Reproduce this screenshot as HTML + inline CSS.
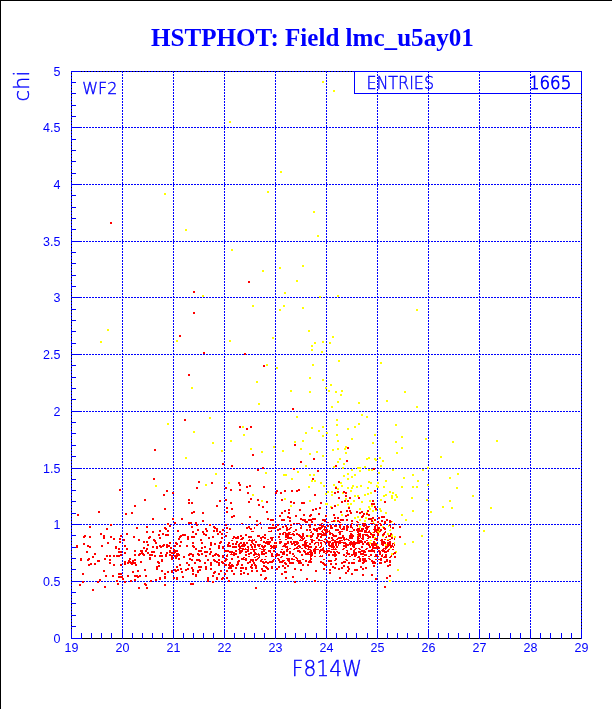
<!DOCTYPE html>
<html><head><meta charset="utf-8"><title>HSTPHOT: Field lmc_u5ay01</title>
<style>html,body{margin:0;padding:0;background:#fff;}body{width:612px;height:709px;overflow:hidden;position:relative;}
.frame{position:absolute;left:0;top:0;width:612px;height:709px;box-sizing:border-box;border-top:1px solid #000;border-left:1px solid #000;}
svg{position:absolute;left:0;top:0;}</style></head>
<body><div class="frame"></div><svg width="612" height="709" viewBox="0 0 612 709" shape-rendering="crispEdges"><path d="M122.5 71V638M173.5 71V638M224.5 71V638M275.5 71V638M326.5 71V638M377.5 71V638M428.5 71V638M479.5 71V638M530.5 71V638M71 581.5H581M71 524.5H581M71 468.5H581M71 411.5H581M71 354.5H581M71 297.5H581M71 241.5H581M71 184.5H581M71 127.5H581" stroke="#0000ff" stroke-width="1" stroke-dasharray="2 1" fill="none"/><path d="M71.5 639V71.5H581.5V639" stroke="#0000ff" stroke-width="1" fill="none"/><path d="M71 73h1v1h-1zM71 76h1v1h-1zM71 79h1v1h-1zM71 82h1v1h-1zM71 85h1v1h-1zM71 88h1v1h-1zM71 91h1v1h-1zM71 94h1v1h-1zM71 97h1v1h-1zM71 100h1v1h-1zM71 103h1v1h-1zM71 106h1v1h-1zM71 109h1v1h-1zM71 112h1v1h-1zM71 115h1v1h-1zM71 118h1v1h-1zM71 121h1v1h-1zM71 124h1v1h-1zM71 127h1v1h-1zM71 130h1v1h-1zM71 133h1v1h-1zM71 136h1v1h-1zM71 139h1v1h-1zM71 142h1v1h-1zM71 145h1v1h-1zM71 148h1v1h-1zM71 151h1v1h-1zM71 154h1v1h-1zM71 157h1v1h-1zM71 160h1v1h-1zM71 163h1v1h-1zM71 166h1v1h-1zM71 169h1v1h-1zM71 172h1v1h-1zM71 175h1v1h-1zM71 178h1v1h-1zM71 181h1v1h-1zM71 184h1v1h-1zM71 187h1v1h-1zM71 190h1v1h-1zM71 193h1v1h-1zM71 196h1v1h-1zM71 199h1v1h-1zM71 202h1v1h-1zM71 205h1v1h-1zM71 208h1v1h-1zM71 211h1v1h-1zM71 214h1v1h-1zM71 217h1v1h-1zM71 220h1v1h-1zM71 223h1v1h-1zM71 226h1v1h-1zM71 229h1v1h-1zM71 232h1v1h-1zM71 235h1v1h-1zM71 238h1v1h-1zM71 241h1v1h-1zM71 244h1v1h-1zM71 247h1v1h-1zM71 250h1v1h-1zM71 253h1v1h-1zM71 256h1v1h-1zM71 259h1v1h-1zM71 262h1v1h-1zM71 265h1v1h-1zM71 268h1v1h-1zM71 271h1v1h-1zM71 274h1v1h-1zM71 277h1v1h-1zM71 280h1v1h-1zM71 283h1v1h-1zM71 286h1v1h-1zM71 289h1v1h-1zM71 292h1v1h-1zM71 295h1v1h-1zM71 298h1v1h-1zM71 301h1v1h-1zM71 304h1v1h-1zM71 307h1v1h-1zM71 310h1v1h-1zM71 313h1v1h-1zM71 316h1v1h-1zM71 319h1v1h-1zM71 322h1v1h-1zM71 325h1v1h-1zM71 328h1v1h-1zM71 331h1v1h-1zM71 334h1v1h-1zM71 337h1v1h-1zM71 340h1v1h-1zM71 343h1v1h-1zM71 346h1v1h-1zM71 349h1v1h-1zM71 352h1v1h-1zM71 355h1v1h-1zM71 358h1v1h-1zM71 361h1v1h-1zM71 364h1v1h-1zM71 367h1v1h-1zM71 370h1v1h-1zM71 373h1v1h-1zM71 376h1v1h-1zM71 379h1v1h-1zM71 382h1v1h-1zM71 385h1v1h-1zM71 388h1v1h-1zM71 391h1v1h-1zM71 394h1v1h-1zM71 397h1v1h-1zM71 400h1v1h-1zM71 403h1v1h-1zM71 406h1v1h-1zM71 409h1v1h-1zM71 412h1v1h-1zM71 415h1v1h-1zM71 418h1v1h-1zM71 421h1v1h-1zM71 424h1v1h-1zM71 427h1v1h-1zM71 430h1v1h-1zM71 433h1v1h-1zM71 436h1v1h-1zM71 439h1v1h-1zM71 442h1v1h-1zM71 445h1v1h-1zM71 448h1v1h-1zM71 451h1v1h-1zM71 454h1v1h-1zM71 457h1v1h-1zM71 460h1v1h-1zM71 463h1v1h-1zM71 466h1v1h-1zM71 469h1v1h-1zM71 472h1v1h-1zM71 475h1v1h-1zM71 478h1v1h-1zM71 481h1v1h-1zM71 484h1v1h-1zM71 487h1v1h-1zM71 490h1v1h-1zM71 493h1v1h-1zM71 496h1v1h-1zM71 499h1v1h-1zM71 502h1v1h-1zM71 505h1v1h-1zM71 508h1v1h-1zM71 511h1v1h-1zM71 514h1v1h-1zM71 517h1v1h-1zM71 520h1v1h-1zM71 523h1v1h-1zM71 526h1v1h-1zM71 529h1v1h-1zM71 532h1v1h-1zM71 535h1v1h-1zM71 538h1v1h-1zM71 541h1v1h-1zM71 544h1v1h-1zM71 547h1v1h-1zM71 550h1v1h-1zM71 553h1v1h-1zM71 556h1v1h-1zM71 559h1v1h-1zM71 562h1v1h-1zM71 565h1v1h-1zM71 568h1v1h-1zM71 571h1v1h-1zM71 574h1v1h-1zM71 577h1v1h-1zM71 580h1v1h-1zM71 583h1v1h-1zM71 586h1v1h-1zM71 589h1v1h-1zM71 592h1v1h-1zM71 595h1v1h-1zM71 598h1v1h-1zM71 601h1v1h-1zM71 604h1v1h-1zM71 607h1v1h-1zM71 610h1v1h-1zM71 613h1v1h-1zM71 616h1v1h-1zM71 619h1v1h-1zM71 622h1v1h-1zM71 625h1v1h-1zM71 628h1v1h-1zM581 94h1v1h-1zM581 97h1v1h-1zM581 100h1v1h-1zM581 103h1v1h-1zM581 106h1v1h-1zM581 109h1v1h-1zM581 112h1v1h-1zM581 115h1v1h-1zM581 118h1v1h-1zM581 121h1v1h-1zM581 124h1v1h-1zM581 127h1v1h-1zM581 130h1v1h-1zM581 133h1v1h-1zM581 136h1v1h-1zM581 139h1v1h-1zM581 142h1v1h-1zM581 145h1v1h-1zM581 148h1v1h-1zM581 151h1v1h-1zM581 154h1v1h-1zM581 157h1v1h-1zM581 160h1v1h-1zM581 163h1v1h-1zM581 166h1v1h-1zM581 169h1v1h-1zM581 172h1v1h-1zM581 175h1v1h-1zM581 178h1v1h-1zM581 181h1v1h-1zM581 184h1v1h-1zM581 187h1v1h-1zM581 190h1v1h-1zM581 193h1v1h-1zM581 196h1v1h-1zM581 199h1v1h-1zM581 202h1v1h-1zM581 205h1v1h-1zM581 208h1v1h-1zM581 211h1v1h-1zM581 214h1v1h-1zM581 217h1v1h-1zM581 220h1v1h-1zM581 223h1v1h-1zM581 226h1v1h-1zM581 229h1v1h-1zM581 232h1v1h-1zM581 235h1v1h-1zM581 238h1v1h-1zM581 241h1v1h-1zM581 244h1v1h-1zM581 247h1v1h-1zM581 250h1v1h-1zM581 253h1v1h-1zM581 256h1v1h-1zM581 259h1v1h-1zM581 262h1v1h-1zM581 265h1v1h-1zM581 268h1v1h-1zM581 271h1v1h-1zM581 274h1v1h-1zM581 277h1v1h-1zM581 280h1v1h-1zM581 283h1v1h-1zM581 286h1v1h-1zM581 289h1v1h-1zM581 292h1v1h-1zM581 295h1v1h-1zM581 298h1v1h-1zM581 301h1v1h-1zM581 304h1v1h-1zM581 307h1v1h-1zM581 310h1v1h-1zM581 313h1v1h-1zM581 316h1v1h-1zM581 319h1v1h-1zM581 322h1v1h-1zM581 325h1v1h-1zM581 328h1v1h-1zM581 331h1v1h-1zM581 334h1v1h-1zM581 337h1v1h-1zM581 340h1v1h-1zM581 343h1v1h-1zM581 346h1v1h-1zM581 349h1v1h-1zM581 352h1v1h-1zM581 355h1v1h-1zM581 358h1v1h-1zM581 361h1v1h-1zM581 364h1v1h-1zM581 367h1v1h-1zM581 370h1v1h-1zM581 373h1v1h-1zM581 376h1v1h-1zM581 379h1v1h-1zM581 382h1v1h-1zM581 385h1v1h-1zM581 388h1v1h-1zM581 391h1v1h-1zM581 394h1v1h-1zM581 397h1v1h-1zM581 400h1v1h-1zM581 403h1v1h-1zM581 406h1v1h-1zM581 409h1v1h-1zM581 412h1v1h-1zM581 415h1v1h-1zM581 418h1v1h-1zM581 421h1v1h-1zM581 424h1v1h-1zM581 427h1v1h-1zM581 430h1v1h-1zM581 433h1v1h-1zM581 436h1v1h-1zM581 439h1v1h-1zM581 442h1v1h-1zM581 445h1v1h-1zM581 448h1v1h-1zM581 451h1v1h-1zM581 454h1v1h-1zM581 457h1v1h-1zM581 460h1v1h-1zM581 463h1v1h-1zM581 466h1v1h-1zM581 469h1v1h-1zM581 472h1v1h-1zM581 475h1v1h-1zM581 478h1v1h-1zM581 481h1v1h-1zM581 484h1v1h-1zM581 487h1v1h-1zM581 490h1v1h-1zM581 493h1v1h-1zM581 496h1v1h-1zM581 499h1v1h-1zM581 502h1v1h-1zM581 505h1v1h-1zM581 508h1v1h-1zM581 511h1v1h-1zM581 514h1v1h-1zM581 517h1v1h-1zM581 520h1v1h-1zM581 523h1v1h-1zM581 526h1v1h-1zM581 529h1v1h-1zM581 532h1v1h-1zM581 535h1v1h-1zM581 538h1v1h-1zM581 541h1v1h-1zM581 544h1v1h-1zM581 547h1v1h-1zM581 550h1v1h-1zM581 553h1v1h-1zM581 556h1v1h-1zM581 559h1v1h-1zM581 562h1v1h-1zM581 565h1v1h-1zM581 568h1v1h-1zM581 571h1v1h-1zM581 574h1v1h-1zM581 577h1v1h-1zM581 580h1v1h-1zM581 583h1v1h-1zM581 586h1v1h-1zM581 589h1v1h-1zM581 592h1v1h-1zM581 595h1v1h-1zM581 598h1v1h-1zM581 601h1v1h-1zM581 604h1v1h-1zM581 607h1v1h-1zM581 610h1v1h-1zM581 613h1v1h-1zM581 616h1v1h-1zM581 619h1v1h-1zM581 622h1v1h-1zM581 625h1v1h-1zM581 628h1v1h-1zM81 71h1v1h-1zM84 71h1v1h-1zM87 71h1v1h-1zM90 71h1v1h-1zM93 71h1v1h-1zM96 71h1v1h-1zM99 71h1v1h-1zM102 71h1v1h-1zM105 71h1v1h-1zM108 71h1v1h-1zM111 71h1v1h-1zM114 71h1v1h-1zM117 71h1v1h-1zM120 71h1v1h-1zM123 71h1v1h-1zM126 71h1v1h-1zM129 71h1v1h-1zM132 71h1v1h-1zM135 71h1v1h-1zM138 71h1v1h-1zM141 71h1v1h-1zM144 71h1v1h-1zM147 71h1v1h-1zM150 71h1v1h-1zM153 71h1v1h-1zM156 71h1v1h-1zM159 71h1v1h-1zM162 71h1v1h-1zM165 71h1v1h-1zM168 71h1v1h-1zM171 71h1v1h-1zM174 71h1v1h-1zM177 71h1v1h-1zM180 71h1v1h-1zM183 71h1v1h-1zM186 71h1v1h-1zM189 71h1v1h-1zM192 71h1v1h-1zM195 71h1v1h-1zM198 71h1v1h-1zM201 71h1v1h-1zM204 71h1v1h-1zM207 71h1v1h-1zM210 71h1v1h-1zM213 71h1v1h-1zM216 71h1v1h-1zM219 71h1v1h-1zM222 71h1v1h-1zM225 71h1v1h-1zM228 71h1v1h-1zM231 71h1v1h-1zM234 71h1v1h-1zM237 71h1v1h-1zM240 71h1v1h-1zM243 71h1v1h-1zM246 71h1v1h-1zM249 71h1v1h-1zM252 71h1v1h-1zM255 71h1v1h-1zM258 71h1v1h-1zM261 71h1v1h-1zM264 71h1v1h-1zM267 71h1v1h-1zM270 71h1v1h-1zM273 71h1v1h-1zM276 71h1v1h-1zM279 71h1v1h-1zM282 71h1v1h-1zM285 71h1v1h-1zM288 71h1v1h-1zM291 71h1v1h-1zM294 71h1v1h-1zM297 71h1v1h-1zM300 71h1v1h-1zM303 71h1v1h-1zM306 71h1v1h-1zM309 71h1v1h-1zM312 71h1v1h-1zM315 71h1v1h-1zM318 71h1v1h-1zM321 71h1v1h-1zM324 71h1v1h-1zM327 71h1v1h-1zM330 71h1v1h-1zM333 71h1v1h-1zM336 71h1v1h-1zM339 71h1v1h-1zM342 71h1v1h-1zM345 71h1v1h-1zM348 71h1v1h-1zM351 71h1v1h-1z" fill="#000"/><path d="M72 638.5H581" stroke="#000" stroke-width="1" fill="none"/><path d="M71.5 639v-10M81.5 639v-6M91.5 639v-6M101.5 639v-6M111.5 639v-6M122.5 639v-10M132.5 639v-6M142.5 639v-6M152.5 639v-6M162.5 639v-6M173.5 639v-10M183.5 639v-6M193.5 639v-6M203.5 639v-6M213.5 639v-6M224.5 639v-10M234.5 639v-6M244.5 639v-6M254.5 639v-6M264.5 639v-6M275.5 639v-10M285.5 639v-6M295.5 639v-6M305.5 639v-6M316.5 639v-6M326.5 639v-10M336.5 639v-6M346.5 639v-6M356.5 639v-6M367.5 639v-6M377.5 639v-10M387.5 639v-6M397.5 639v-6M407.5 639v-6M418.5 639v-6M428.5 639v-10M438.5 639v-6M448.5 639v-6M458.5 639v-6M469.5 639v-6M479.5 639v-10M489.5 639v-6M499.5 639v-6M510.5 639v-6M520.5 639v-6M530.5 639v-10M540.5 639v-6M550.5 639v-6M561.5 639v-6M571.5 639v-6M581.5 639v-10M71 638.5h10M71 626.5h5M71 615.5h5M71 603.5h5M71 592.5h5M71 581.5h10M71 569.5h5M71 558.5h5M71 547.5h5M71 535.5h5M71 524.5h10M71 513.5h5M71 501.5h5M71 490.5h5M71 479.5h5M71 468.5h10M71 456.5h5M71 445.5h5M71 433.5h5M71 422.5h5M71 411.5h10M71 399.5h5M71 388.5h5M71 377.5h5M71 365.5h5M71 354.5h10M71 343.5h5M71 331.5h5M71 320.5h5M71 309.5h5M71 297.5h10M71 286.5h5M71 275.5h5M71 263.5h5M71 252.5h5M71 241.5h10M71 229.5h5M71 218.5h5M71 207.5h5M71 195.5h5M71 184.5h10M71 173.5h5M71 161.5h5M71 150.5h5M71 139.5h5M71 127.5h10M71 116.5h5M71 105.5h5M71 93.5h5M71 82.5h5M71 71.5h10" stroke="#0000ff" stroke-width="1" fill="none"/><path d="M354.5 71V93.5H581.5" stroke="#0000ff" stroke-width="1" fill="none"/><path d="M322 81h2v1h-2zM322 82h2v1h-2zM333 90h2v1h-2zM333 91h2v1h-2zM229 121h2v1h-2zM229 122h2v1h-2zM280 171h2v1h-2zM280 172h2v1h-2zM267 191h2v1h-2zM267 192h2v1h-2zM164 193h2v1h-2zM164 194h2v1h-2zM313 211h2v1h-2zM313 212h2v1h-2zM185 229h2v1h-2zM185 230h2v1h-2zM317 235h2v1h-2zM317 236h2v1h-2zM231 249h2v1h-2zM231 250h2v1h-2zM302 265h2v1h-2zM302 266h2v1h-2zM279 267h2v1h-2zM279 268h2v1h-2zM262 270h2v1h-2zM262 271h2v1h-2zM296 280h2v1h-2zM296 281h2v1h-2zM284 292h2v1h-2zM284 293h2v1h-2zM202 295h2v1h-2zM337 295h2v1h-2zM202 296h2v1h-2zM319 296h2v1h-2zM337 296h2v1h-2zM319 297h2v1h-2zM252 305h2v1h-2zM283 305h2v1h-2zM252 306h2v1h-2zM283 306h2v1h-2zM302 307h2v1h-2zM302 308h2v1h-2zM279 309h2v1h-2zM416 309h2v1h-2zM279 310h2v1h-2zM416 310h2v1h-2zM107 329h2v1h-2zM107 330h2v1h-2zM308 330h2v1h-2zM308 331h2v1h-2zM332 336h2v1h-2zM272 337h2v1h-2zM332 337h2v1h-2zM272 338h2v1h-2zM176 340h2v1h-2zM229 340h2v1h-2zM100 341h2v1h-2zM176 341h2v1h-2zM229 341h2v1h-2zM322 341h2v1h-2zM100 342h2v1h-2zM314 342h2v1h-2zM322 342h2v1h-2zM329 342h2v1h-2zM314 343h2v1h-2zM329 343h2v1h-2zM311 345h2v1h-2zM311 346h2v1h-2zM311 349h2v1h-2zM311 350h2v1h-2zM321 351h2v1h-2zM321 352h2v1h-2zM338 360h2v1h-2zM338 361h2v1h-2zM380 362h2v1h-2zM380 363h2v1h-2zM266 364h2v1h-2zM312 364h2v1h-2zM266 365h2v1h-2zM312 365h2v1h-2zM276 367h2v1h-2zM276 368h2v1h-2zM309 377h2v1h-2zM309 378h2v1h-2zM322 379h2v1h-2zM322 380h2v1h-2zM256 381h2v1h-2zM256 382h2v1h-2zM330 384h2v1h-2zM330 385h2v1h-2zM191 387h2v1h-2zM325 387h2v1h-2zM191 388h2v1h-2zM325 388h2v1h-2zM290 390h2v1h-2zM328 390h2v1h-2zM341 390h2v1h-2zM290 391h2v1h-2zM309 391h2v1h-2zM328 391h2v1h-2zM335 391h2v1h-2zM341 391h2v1h-2zM404 391h2v1h-2zM309 392h2v1h-2zM335 392h2v1h-2zM404 392h2v1h-2zM340 394h2v1h-2zM340 395h2v1h-2zM386 400h2v1h-2zM337 401h2v1h-2zM386 401h2v1h-2zM337 402h2v1h-2zM358 402h2v1h-2zM258 403h2v1h-2zM358 403h2v1h-2zM258 404h2v1h-2zM331 406h2v1h-2zM416 406h2v1h-2zM331 407h2v1h-2zM416 407h2v1h-2zM361 414h2v1h-2zM361 415h2v1h-2zM296 416h2v1h-2zM366 416h2v1h-2zM209 417h2v1h-2zM296 417h2v1h-2zM366 417h2v1h-2zM209 418h2v1h-2zM336 419h2v1h-2zM336 420h2v1h-2zM167 423h2v1h-2zM358 423h2v1h-2zM167 424h2v1h-2zM336 424h2v1h-2zM358 424h2v1h-2zM395 424h2v1h-2zM336 425h2v1h-2zM395 425h2v1h-2zM242 426h2v1h-2zM322 426h2v1h-2zM354 426h2v1h-2zM242 427h2v1h-2zM311 427h2v1h-2zM322 427h2v1h-2zM354 427h2v1h-2zM311 428h2v1h-2zM347 428h2v1h-2zM347 429h2v1h-2zM318 430h2v1h-2zM193 431h2v1h-2zM318 431h2v1h-2zM193 432h2v1h-2zM305 432h2v1h-2zM326 432h2v1h-2zM305 433h2v1h-2zM326 433h2v1h-2zM243 434h2v1h-2zM336 434h2v1h-2zM374 434h2v1h-2zM243 435h2v1h-2zM322 435h2v1h-2zM336 435h2v1h-2zM374 435h2v1h-2zM322 436h2v1h-2zM401 436h2v1h-2zM401 437h2v1h-2zM351 438h2v1h-2zM425 438h2v1h-2zM351 439h2v1h-2zM425 439h2v1h-2zM230 440h2v1h-2zM302 440h2v1h-2zM337 440h2v1h-2zM496 440h2v1h-2zM230 441h2v1h-2zM294 441h2v1h-2zM302 441h2v1h-2zM337 441h2v1h-2zM395 441h2v1h-2zM452 441h2v1h-2zM496 441h2v1h-2zM212 442h2v1h-2zM294 442h2v1h-2zM372 442h2v1h-2zM395 442h2v1h-2zM452 442h2v1h-2zM212 443h2v1h-2zM372 443h2v1h-2zM273 446h2v1h-2zM345 446h2v1h-2zM273 447h2v1h-2zM345 447h2v1h-2zM401 447h2v1h-2zM250 448h2v1h-2zM300 448h2v1h-2zM337 448h2v1h-2zM344 448h2v1h-2zM401 448h2v1h-2zM250 449h2v1h-2zM300 449h2v1h-2zM332 449h2v1h-2zM337 449h2v1h-2zM344 449h2v1h-2zM221 450h2v1h-2zM282 450h2v1h-2zM332 450h2v1h-2zM221 451h2v1h-2zM261 451h2v1h-2zM282 451h2v1h-2zM316 451h2v1h-2zM261 452h2v1h-2zM316 452h2v1h-2zM345 452h2v1h-2zM396 452h2v1h-2zM309 453h2v1h-2zM345 453h2v1h-2zM396 453h2v1h-2zM309 454h2v1h-2zM322 455h2v1h-2zM322 456h2v1h-2zM440 456h2v1h-2zM185 457h2v1h-2zM368 457h2v1h-2zM379 457h2v1h-2zM440 457h2v1h-2zM185 458h2v1h-2zM339 458h2v1h-2zM366 458h4v1h-4zM374 458h2v1h-2zM379 458h2v1h-2zM339 459h2v1h-2zM366 459h2v1h-2zM374 459h3v1h-3zM375 460h2v1h-2zM382 460h2v1h-2zM337 461h2v1h-2zM382 461h2v1h-2zM337 462h2v1h-2zM343 463h2v1h-2zM343 464h2v1h-2zM305 465h2v1h-2zM380 465h2v1h-2zM305 466h2v1h-2zM333 466h2v1h-2zM364 466h2v1h-2zM380 466h2v1h-2zM333 467h2v1h-2zM342 467h2v1h-2zM357 467h4v1h-4zM364 467h2v1h-2zM427 467h2v1h-2zM342 468h2v1h-2zM357 468h4v1h-4zM427 468h2v1h-2zM351 469h2v1h-2zM368 469h2v1h-2zM371 469h2v1h-2zM392 469h2v1h-2zM422 469h2v1h-2zM351 470h2v1h-2zM359 470h2v1h-2zM368 470h2v1h-2zM371 470h2v1h-2zM392 470h2v1h-2zM422 470h2v1h-2zM297 471h2v1h-2zM359 471h2v1h-2zM265 472h2v1h-2zM297 472h2v1h-2zM378 472h2v1h-2zM215 473h2v1h-2zM265 473h2v1h-2zM347 473h2v1h-2zM378 473h2v1h-2zM457 473h2v1h-2zM215 474h2v1h-2zM283 474h4v1h-4zM309 474h2v1h-2zM313 474h2v1h-2zM347 474h2v1h-2zM354 474h2v1h-2zM412 474h2v1h-2zM457 474h2v1h-2zM283 475h4v1h-4zM309 475h2v1h-2zM313 475h2v1h-2zM343 475h2v1h-2zM354 475h2v1h-2zM412 475h2v1h-2zM343 476h2v1h-2zM351 476h2v1h-2zM351 477h2v1h-2zM403 477h2v1h-2zM449 477h2v1h-2zM291 478h2v1h-2zM347 478h2v1h-2zM403 478h2v1h-2zM449 478h2v1h-2zM291 479h2v1h-2zM347 479h2v1h-2zM311 480h2v1h-2zM314 480h2v1h-2zM385 480h2v1h-2zM417 480h2v1h-2zM311 481h2v1h-2zM314 481h2v1h-2zM368 481h2v1h-2zM385 481h2v1h-2zM417 481h2v1h-2zM228 482h2v1h-2zM320 482h2v1h-2zM340 482h2v1h-2zM368 482h4v1h-4zM377 482h2v1h-2zM228 483h2v1h-2zM320 483h2v1h-2zM340 483h2v1h-2zM370 483h2v1h-2zM377 483h2v1h-2zM205 484h2v1h-2zM333 484h2v1h-2zM427 484h2v1h-2zM155 485h2v1h-2zM205 485h2v1h-2zM323 485h2v1h-2zM333 485h2v1h-2zM341 485h2v1h-2zM352 485h2v1h-2zM360 485h2v1h-2zM376 485h2v1h-2zM427 485h2v1h-2zM155 486h2v1h-2zM308 486h2v1h-2zM323 486h2v1h-2zM335 486h2v1h-2zM341 486h2v1h-2zM352 486h2v1h-2zM356 486h2v1h-2zM360 486h2v1h-2zM376 486h3v1h-3zM383 486h2v1h-2zM401 486h2v1h-2zM412 486h2v1h-2zM416 486h2v1h-2zM308 487h2v1h-2zM347 487h2v1h-2zM351 487h2v1h-2zM356 487h2v1h-2zM367 487h2v1h-2zM377 487h2v1h-2zM383 487h2v1h-2zM401 487h2v1h-2zM412 487h2v1h-2zM416 487h2v1h-2zM456 487h2v1h-2zM337 488h2v1h-2zM347 488h2v1h-2zM351 488h2v1h-2zM367 488h2v1h-2zM456 488h2v1h-2zM337 489h2v1h-2zM350 490h2v1h-2zM327 491h2v1h-2zM331 491h2v1h-2zM350 491h2v1h-2zM389 491h2v1h-2zM327 492h2v1h-2zM331 492h2v1h-2zM342 492h1v1h-1zM370 492h2v1h-2zM389 492h2v1h-2zM392 492h2v1h-2zM325 493h2v1h-2zM342 493h2v1h-2zM367 493h2v1h-2zM370 493h2v1h-2zM392 493h2v1h-2zM252 494h2v1h-2zM325 494h2v1h-2zM331 494h2v1h-2zM364 494h2v1h-2zM367 494h2v1h-2zM385 494h2v1h-2zM395 494h2v1h-2zM252 495h2v1h-2zM331 495h2v1h-2zM354 495h2v1h-2zM357 495h2v1h-2zM364 495h2v1h-2zM383 495h4v1h-4zM391 495h2v1h-2zM395 495h2v1h-2zM472 495h2v1h-2zM354 496h2v1h-2zM357 496h2v1h-2zM383 496h2v1h-2zM391 496h2v1h-2zM396 496h2v1h-2zM472 496h2v1h-2zM391 497h2v1h-2zM396 497h2v1h-2zM411 497h2v1h-2zM284 498h2v1h-2zM345 498h2v1h-2zM391 498h2v1h-2zM411 498h2v1h-2zM284 499h2v1h-2zM345 499h2v1h-2zM380 499h2v1h-2zM394 499h2v1h-2zM426 499h2v1h-2zM261 500h2v1h-2zM309 500h2v1h-2zM353 500h2v1h-2zM369 500h2v1h-2zM380 500h2v1h-2zM394 500h2v1h-2zM426 500h2v1h-2zM449 500h2v1h-2zM261 501h2v1h-2zM309 501h2v1h-2zM353 501h2v1h-2zM361 501h2v1h-2zM369 501h2v1h-2zM449 501h2v1h-2zM361 502h2v1h-2zM325 503h3v1h-3zM347 503h2v1h-2zM350 503h2v1h-2zM325 504h3v1h-3zM337 504h2v1h-2zM347 504h2v1h-2zM350 504h2v1h-2zM290 505h2v1h-2zM337 505h2v1h-2zM371 505h2v1h-2zM290 506h2v1h-2zM330 506h2v1h-2zM348 506h2v1h-2zM368 506h2v1h-2zM371 506h2v1h-2zM442 506h2v1h-2zM330 507h1v1h-1zM368 507h2v1h-2zM442 507h2v1h-2zM451 507h2v1h-2zM490 507h2v1h-2zM359 508h2v1h-2zM369 508h2v1h-2zM379 508h2v1h-2zM451 508h2v1h-2zM490 508h2v1h-2zM359 509h2v1h-2zM369 509h2v1h-2zM379 509h2v1h-2zM372 510h2v1h-2zM375 510h2v1h-2zM380 510h2v1h-2zM412 510h2v1h-2zM372 511h2v1h-2zM380 511h2v1h-2zM412 511h2v1h-2zM430 511h2v1h-2zM366 512h2v1h-2zM385 512h2v1h-2zM430 512h2v1h-2zM385 513h2v1h-2zM341 514h2v1h-2zM401 514h2v1h-2zM341 515h2v1h-2zM401 515h2v1h-2zM357 516h2v1h-2zM354 517h2v1h-2zM357 517h2v1h-2zM365 517h2v1h-2zM354 518h2v1h-2zM365 518h2v1h-2zM359 519h2v1h-2zM372 519h1v1h-1zM405 519h2v1h-2zM335 520h1v1h-1zM359 520h2v1h-2zM364 520h2v1h-2zM405 520h2v1h-2zM335 521h1v1h-1zM364 521h2v1h-2zM373 521h1v1h-1zM392 521h1v1h-1zM373 522h1v1h-1zM391 522h1v1h-1zM374 523h1v1h-1zM359 525h1v1h-1zM388 525h1v1h-1zM452 525h2v1h-2zM359 526h2v1h-2zM382 526h2v1h-2zM388 526h1v1h-1zM452 526h2v1h-2zM359 527h2v1h-2zM382 527h1v1h-1zM379 529h1v1h-1zM390 529h1v1h-1zM379 530h1v1h-1zM389 530h2v1h-2zM483 530h2v1h-2zM377 531h2v1h-2zM483 531h2v1h-2zM372 532h1v1h-1zM378 532h2v1h-2zM387 533h2v1h-2zM387 534h2v1h-2zM392 534h1v1h-1zM308 535h2v1h-2zM357 535h1v1h-1zM371 535h1v1h-1zM391 535h2v1h-2zM421 535h2v1h-2zM308 536h2v1h-2zM382 536h2v1h-2zM391 536h2v1h-2zM394 536h2v1h-2zM421 536h2v1h-2zM374 537h2v1h-2zM394 537h2v1h-2zM374 538h1v1h-1zM387 539h2v1h-2zM370 540h2v1h-2zM412 541h2v1h-2zM369 542h2v1h-2zM375 542h1v1h-1zM394 542h1v1h-1zM412 542h2v1h-2zM369 543h2v1h-2zM394 543h1v1h-1zM404 543h2v1h-2zM377 544h1v1h-1zM385 544h2v1h-2zM404 544h2v1h-2zM377 545h1v1h-1zM385 545h2v1h-2zM389 548h2v1h-2zM395 551h2v1h-2zM396 552h1v1h-1zM391 553h2v1h-2zM391 554h2v1h-2zM397 569h2v1h-2zM397 570h2v1h-2zM389 580h2v1h-2zM389 581h2v1h-2z" fill="#ffff00"/><path d="M110 222h2v1h-2zM110 223h2v1h-2zM248 281h2v1h-2zM248 282h2v1h-2zM193 291h2v1h-2zM193 292h2v1h-2zM193 312h2v1h-2zM193 313h2v1h-2zM179 335h2v1h-2zM179 336h2v1h-2zM203 352h2v1h-2zM203 353h2v1h-2zM244 353h2v1h-2zM244 354h2v1h-2zM263 365h2v1h-2zM263 366h2v1h-2zM188 374h2v1h-2zM188 375h2v1h-2zM292 408h2v1h-2zM292 409h2v1h-2zM184 419h2v1h-2zM184 420h2v1h-2zM239 426h2v1h-2zM250 426h2v1h-2zM239 427h2v1h-2zM250 427h2v1h-2zM246 428h2v1h-2zM246 429h2v1h-2zM294 444h2v1h-2zM294 445h2v1h-2zM347 447h2v1h-2zM347 448h2v1h-2zM154 449h2v1h-2zM154 450h2v1h-2zM252 454h2v1h-2zM252 455h2v1h-2zM313 458h2v1h-2zM313 459h2v1h-2zM346 460h2v1h-2zM300 461h2v1h-2zM346 461h2v1h-2zM300 462h2v1h-2zM222 463h2v1h-2zM222 464h2v1h-2zM231 465h2v1h-2zM335 465h2v1h-2zM231 466h2v1h-2zM335 466h2v1h-2zM262 467h2v1h-2zM262 468h2v1h-2zM293 468h2v1h-2zM373 468h2v1h-2zM257 469h2v1h-2zM293 469h2v1h-2zM373 469h2v1h-2zM257 470h2v1h-2zM317 470h2v1h-2zM317 471h2v1h-2zM153 478h2v1h-2zM312 478h2v1h-2zM153 479h2v1h-2zM312 479h2v1h-2zM198 481h2v1h-2zM338 481h2v1h-2zM198 482h2v1h-2zM211 482h2v1h-2zM238 482h2v1h-2zM338 482h2v1h-2zM211 483h2v1h-2zM238 483h2v1h-2zM239 484h2v1h-2zM239 485h2v1h-2zM249 485h2v1h-2zM246 486h2v1h-2zM249 486h2v1h-2zM263 486h2v1h-2zM196 487h2v1h-2zM225 487h2v1h-2zM246 487h2v1h-2zM263 487h2v1h-2zM335 487h2v1h-2zM196 488h2v1h-2zM225 488h2v1h-2zM335 488h2v1h-2zM119 489h2v1h-2zM230 489h2v1h-2zM239 489h2v1h-2zM298 489h2v1h-2zM119 490h2v1h-2zM166 490h2v1h-2zM230 490h2v1h-2zM239 490h2v1h-2zM276 490h2v1h-2zM284 490h2v1h-2zM291 490h2v1h-2zM296 490h4v1h-4zM374 490h2v1h-2zM166 491h2v1h-2zM276 491h2v1h-2zM284 491h2v1h-2zM291 491h2v1h-2zM296 491h2v1h-2zM337 491h2v1h-2zM343 491h2v1h-2zM374 491h2v1h-2zM172 492h2v1h-2zM247 492h2v1h-2zM275 492h2v1h-2zM280 492h2v1h-2zM334 492h2v1h-2zM337 492h2v1h-2zM343 492h4v1h-4zM172 493h2v1h-2zM247 493h2v1h-2zM275 493h2v1h-2zM280 493h2v1h-2zM334 493h2v1h-2zM345 493h2v1h-2zM163 494h2v1h-2zM314 494h2v1h-2zM163 495h2v1h-2zM314 495h2v1h-2zM345 495h2v1h-2zM345 496h2v1h-2zM338 497h2v1h-2zM349 497h2v1h-2zM358 497h2v1h-2zM250 498h2v1h-2zM338 498h2v1h-2zM349 498h2v1h-2zM358 498h2v1h-2zM144 499h2v1h-2zM188 499h2v1h-2zM225 499h2v1h-2zM250 499h2v1h-2zM257 499h2v1h-2zM281 499h2v1h-2zM144 500h2v1h-2zM188 500h2v1h-2zM219 500h2v1h-2zM225 500h2v1h-2zM257 500h2v1h-2zM281 500h2v1h-2zM344 500h2v1h-2zM347 500h2v1h-2zM372 500h2v1h-2zM219 501h2v1h-2zM248 501h2v1h-2zM266 501h2v1h-2zM290 501h2v1h-2zM341 501h2v1h-2zM344 501h2v1h-2zM347 501h2v1h-2zM372 501h2v1h-2zM384 501h2v1h-2zM188 502h2v1h-2zM191 502h2v1h-2zM230 502h2v1h-2zM248 502h2v1h-2zM266 502h2v1h-2zM290 502h2v1h-2zM293 502h2v1h-2zM301 502h4v1h-4zM320 502h2v1h-2zM341 502h2v1h-2zM384 502h2v1h-2zM188 503h2v1h-2zM191 503h2v1h-2zM230 503h2v1h-2zM293 503h2v1h-2zM301 503h4v1h-4zM320 503h2v1h-2zM371 503h4v1h-4zM258 504h2v1h-2zM371 504h4v1h-4zM134 505h2v1h-2zM216 505h2v1h-2zM258 505h2v1h-2zM334 505h2v1h-2zM134 506h2v1h-2zM216 506h2v1h-2zM262 506h2v1h-2zM334 506h2v1h-2zM374 506h2v1h-2zM226 507h2v1h-2zM262 507h2v1h-2zM319 507h2v1h-2zM331 507h2v1h-2zM348 507h2v1h-2zM374 507h2v1h-2zM164 508h2v1h-2zM226 508h2v1h-2zM231 508h2v1h-2zM315 508h2v1h-2zM319 508h2v1h-2zM331 508h2v1h-2zM348 508h2v1h-2zM375 508h2v1h-2zM164 509h2v1h-2zM231 509h2v1h-2zM288 509h2v1h-2zM299 509h2v1h-2zM312 509h2v1h-2zM315 509h2v1h-2zM375 509h2v1h-2zM284 510h2v1h-2zM288 510h2v1h-2zM299 510h2v1h-2zM312 510h2v1h-2zM346 510h2v1h-2zM349 510h2v1h-2zM367 510h2v1h-2zM98 511h2v1h-2zM193 511h2v1h-2zM226 511h2v1h-2zM266 511h2v1h-2zM284 511h2v1h-2zM340 511h2v1h-2zM346 511h2v1h-2zM349 511h2v1h-2zM356 511h2v1h-2zM361 511h2v1h-2zM367 511h2v1h-2zM98 512h2v1h-2zM131 512h2v1h-2zM191 512h4v1h-4zM202 512h2v1h-2zM226 512h2v1h-2zM266 512h2v1h-2zM281 512h2v1h-2zM288 512h2v1h-2zM340 512h2v1h-2zM350 512h2v1h-2zM356 512h2v1h-2zM359 512h4v1h-4zM125 513h2v1h-2zM131 513h2v1h-2zM191 513h2v1h-2zM202 513h2v1h-2zM281 513h2v1h-2zM288 513h2v1h-2zM318 513h2v1h-2zM350 513h2v1h-2zM359 513h2v1h-2zM363 513h2v1h-2zM366 513h2v1h-2zM77 514h2v1h-2zM125 514h2v1h-2zM303 514h2v1h-2zM310 514h2v1h-2zM318 514h2v1h-2zM333 514h2v1h-2zM347 514h2v1h-2zM363 514h2v1h-2zM366 514h4v1h-4zM77 515h2v1h-2zM233 515h2v1h-2zM279 515h2v1h-2zM295 515h2v1h-2zM303 515h2v1h-2zM309 515h3v1h-3zM325 515h2v1h-2zM333 515h2v1h-2zM345 515h4v1h-4zM362 515h2v1h-2zM368 515h2v1h-2zM231 516h4v1h-4zM249 516h2v1h-2zM279 516h2v1h-2zM287 516h2v1h-2zM295 516h2v1h-2zM309 516h2v1h-2zM325 516h2v1h-2zM345 516h2v1h-2zM361 516h3v1h-3zM381 516h4v1h-4zM231 517h2v1h-2zM249 517h2v1h-2zM287 517h4v1h-4zM334 517h2v1h-2zM337 517h2v1h-2zM361 517h2v1h-2zM372 517h2v1h-2zM378 517h2v1h-2zM381 517h4v1h-4zM152 518h2v1h-2zM172 518h2v1h-2zM181 518h2v1h-2zM267 518h2v1h-2zM289 518h2v1h-2zM300 518h2v1h-2zM312 518h4v1h-4zM334 518h2v1h-2zM337 518h2v1h-2zM368 518h6v1h-6zM378 518h2v1h-2zM152 519h2v1h-2zM172 519h2v1h-2zM181 519h2v1h-2zM267 519h2v1h-2zM270 519h4v1h-4zM281 519h4v1h-4zM300 519h6v1h-6zM308 519h8v1h-8zM322 519h4v1h-4zM340 519h4v1h-4zM346 519h2v1h-2zM368 519h4v1h-4zM374 519h2v1h-2zM386 519h2v1h-2zM202 520h2v1h-2zM256 520h2v1h-2zM270 520h4v1h-4zM281 520h4v1h-4zM289 520h2v1h-2zM302 520h4v1h-4zM308 520h4v1h-4zM322 520h4v1h-4zM333 520h2v1h-2zM337 520h2v1h-2zM340 520h4v1h-4zM346 520h2v1h-2zM351 520h2v1h-2zM371 520h2v1h-2zM374 520h2v1h-2zM381 520h2v1h-2zM386 520h2v1h-2zM389 520h2v1h-2zM202 521h2v1h-2zM256 521h2v1h-2zM289 521h2v1h-2zM304 521h4v1h-4zM311 521h2v1h-2zM324 521h2v1h-2zM331 521h4v1h-4zM337 521h3v1h-3zM351 521h2v1h-2zM356 521h2v1h-2zM371 521h2v1h-2zM377 521h2v1h-2zM381 521h2v1h-2zM384 521h2v1h-2zM389 521h3v1h-3zM174 522h2v1h-2zM188 522h4v1h-4zM195 522h2v1h-2zM260 522h1v1h-1zM305 522h3v1h-3zM311 522h2v1h-2zM327 522h2v1h-2zM339 522h2v1h-2zM357 522h2v1h-2zM377 522h2v1h-2zM384 522h2v1h-2zM389 522h2v1h-2zM167 523h2v1h-2zM174 523h2v1h-2zM188 523h4v1h-4zM195 523h2v1h-2zM241 523h2v1h-2zM259 523h2v1h-2zM293 523h2v1h-2zM296 523h4v1h-4zM321 523h2v1h-2zM351 523h2v1h-2zM362 523h4v1h-4zM370 523h4v1h-4zM379 523h2v1h-2zM384 523h2v1h-2zM394 523h1v1h-1zM110 524h2v1h-2zM167 524h2v1h-2zM196 524h2v1h-2zM209 524h2v1h-2zM225 524h2v1h-2zM256 524h2v1h-2zM272 524h2v1h-2zM277 524h2v1h-2zM290 524h2v1h-2zM309 524h2v1h-2zM314 524h2v1h-2zM319 524h2v1h-2zM340 524h2v1h-2zM351 524h1v1h-1zM357 524h2v1h-2zM363 524h3v1h-3zM375 524h3v1h-3zM380 524h2v1h-2zM389 524h1v1h-1zM394 524h1v1h-1zM110 525h2v1h-2zM169 525h2v1h-2zM196 525h2v1h-2zM209 525h2v1h-2zM225 525h2v1h-2zM256 525h2v1h-2zM272 525h2v1h-2zM277 525h2v1h-2zM285 525h2v1h-2zM290 525h2v1h-2zM300 525h2v1h-2zM308 525h3v1h-3zM314 525h2v1h-2zM319 525h5v1h-5zM327 525h2v1h-2zM330 525h2v1h-2zM334 525h3v1h-3zM339 525h2v1h-2zM346 525h2v1h-2zM350 525h2v1h-2zM356 525h2v1h-2zM362 525h5v1h-5zM375 525h3v1h-3zM380 525h2v1h-2zM389 525h2v1h-2zM89 526h2v1h-2zM146 526h2v1h-2zM169 526h2v1h-2zM191 526h2v1h-2zM213 526h2v1h-2zM248 526h2v1h-2zM275 526h2v1h-2zM282 526h2v1h-2zM285 526h2v1h-2zM301 526h1v1h-1zM309 526h2v1h-2zM321 526h5v1h-5zM327 526h2v1h-2zM330 526h2v1h-2zM334 526h3v1h-3zM339 526h2v1h-2zM343 526h2v1h-2zM346 526h3v1h-3zM350 526h2v1h-2zM357 526h1v1h-1zM363 526h2v1h-2zM366 526h4v1h-4zM374 526h2v1h-2zM377 526h1v1h-1zM390 526h1v1h-1zM399 526h2v1h-2zM89 527h2v1h-2zM136 527h2v1h-2zM146 527h2v1h-2zM164 527h2v1h-2zM191 527h2v1h-2zM213 527h3v1h-3zM226 527h2v1h-2zM246 527h4v1h-4zM254 527h1v1h-1zM261 527h1v1h-1zM268 527h9v1h-9zM282 527h2v1h-2zM286 527h2v1h-2zM290 527h2v1h-2zM300 527h2v1h-2zM309 527h2v1h-2zM318 527h5v1h-5zM324 527h2v1h-2zM330 527h3v1h-3zM339 527h2v1h-2zM343 527h2v1h-2zM346 527h3v1h-3zM350 527h3v1h-3zM365 527h4v1h-4zM374 527h2v1h-2zM377 527h3v1h-3zM383 527h2v1h-2zM390 527h1v1h-1zM392 527h2v1h-2zM399 527h2v1h-2zM106 528h2v1h-2zM136 528h2v1h-2zM164 528h3v1h-3zM205 528h2v1h-2zM214 528h4v1h-4zM226 528h2v1h-2zM229 528h2v1h-2zM246 528h2v1h-2zM249 528h3v1h-3zM254 528h1v1h-1zM261 528h1v1h-1zM268 528h7v1h-7zM279 528h2v1h-2zM286 528h2v1h-2zM289 528h2v1h-2zM300 528h2v1h-2zM313 528h2v1h-2zM316 528h6v1h-6zM324 528h1v1h-1zM330 528h3v1h-3zM340 528h1v1h-1zM342 528h3v1h-3zM346 528h2v1h-2zM352 528h1v1h-1zM357 528h3v1h-3zM361 528h3v1h-3zM365 528h3v1h-3zM374 528h2v1h-2zM377 528h3v1h-3zM383 528h3v1h-3zM392 528h2v1h-2zM106 529h2v1h-2zM165 529h2v1h-2zM197 529h2v1h-2zM205 529h2v1h-2zM216 529h2v1h-2zM222 529h2v1h-2zM229 529h2v1h-2zM250 529h2v1h-2zM277 529h4v1h-4zM286 529h4v1h-4zM295 529h2v1h-2zM306 529h2v1h-2zM309 529h2v1h-2zM313 529h5v1h-5zM319 529h2v1h-2zM323 529h5v1h-5zM335 529h4v1h-4zM341 529h4v1h-4zM346 529h2v1h-2zM353 529h2v1h-2zM356 529h4v1h-4zM361 529h3v1h-3zM366 529h2v1h-2zM373 529h6v1h-6zM380 529h2v1h-2zM384 529h2v1h-2zM159 530h2v1h-2zM167 530h2v1h-2zM177 530h2v1h-2zM197 530h2v1h-2zM206 530h2v1h-2zM213 530h2v1h-2zM216 530h2v1h-2zM222 530h2v1h-2zM271 530h1v1h-1zM277 530h2v1h-2zM286 530h2v1h-2zM295 530h2v1h-2zM306 530h2v1h-2zM309 530h2v1h-2zM314 530h4v1h-4zM322 530h1v1h-1zM324 530h4v1h-4zM329 530h1v1h-1zM335 530h4v1h-4zM346 530h2v1h-2zM353 530h2v1h-2zM356 530h7v1h-7zM364 530h3v1h-3zM369 530h1v1h-1zM374 530h5v1h-5zM380 530h2v1h-2zM146 531h2v1h-2zM152 531h2v1h-2zM159 531h2v1h-2zM167 531h2v1h-2zM177 531h2v1h-2zM192 531h2v1h-2zM202 531h2v1h-2zM206 531h2v1h-2zM213 531h2v1h-2zM216 531h2v1h-2zM219 531h2v1h-2zM251 531h3v1h-3zM268 531h4v1h-4zM293 531h2v1h-2zM311 531h1v1h-1zM316 531h2v1h-2zM321 531h2v1h-2zM325 531h5v1h-5zM339 531h4v1h-4zM349 531h4v1h-4zM357 531h6v1h-6zM364 531h3v1h-3zM368 531h2v1h-2zM374 531h3v1h-3zM379 531h2v1h-2zM385 531h1v1h-1zM146 532h2v1h-2zM152 532h2v1h-2zM192 532h2v1h-2zM202 532h2v1h-2zM219 532h2v1h-2zM226 532h2v1h-2zM283 532h3v1h-3zM288 532h3v1h-3zM310 532h2v1h-2zM322 532h2v1h-2zM325 532h3v1h-3zM329 532h2v1h-2zM338 532h3v1h-3zM357 532h2v1h-2zM364 532h7v1h-7zM373 532h2v1h-2zM376 532h2v1h-2zM384 532h2v1h-2zM100 533h2v1h-2zM126 533h2v1h-2zM162 533h2v1h-2zM195 533h2v1h-2zM203 533h2v1h-2zM217 533h2v1h-2zM221 533h2v1h-2zM279 533h2v1h-2zM282 533h2v1h-2zM285 533h5v1h-5zM292 533h2v1h-2zM296 533h2v1h-2zM302 533h2v1h-2zM312 533h2v1h-2zM317 533h5v1h-5zM323 533h3v1h-3zM329 533h4v1h-4zM339 533h2v1h-2zM350 533h2v1h-2zM358 533h3v1h-3zM370 533h2v1h-2zM377 533h2v1h-2zM383 533h2v1h-2zM390 533h2v1h-2zM100 534h2v1h-2zM126 534h2v1h-2zM158 534h2v1h-2zM162 534h2v1h-2zM165 534h4v1h-4zM182 534h4v1h-4zM195 534h2v1h-2zM203 534h4v1h-4zM217 534h2v1h-2zM221 534h2v1h-2zM245 534h2v1h-2zM264 534h2v1h-2zM279 534h2v1h-2zM282 534h2v1h-2zM285 534h10v1h-10zM296 534h4v1h-4zM302 534h2v1h-2zM312 534h2v1h-2zM317 534h10v1h-10zM329 534h2v1h-2zM332 534h2v1h-2zM339 534h2v1h-2zM350 534h3v1h-3zM357 534h4v1h-4zM362 534h6v1h-6zM370 534h5v1h-5zM377 534h2v1h-2zM382 534h3v1h-3zM390 534h2v1h-2zM84 535h2v1h-2zM103 535h2v1h-2zM120 535h2v1h-2zM158 535h2v1h-2zM165 535h4v1h-4zM180 535h6v1h-6zM205 535h2v1h-2zM225 535h2v1h-2zM240 535h2v1h-2zM245 535h2v1h-2zM257 535h3v1h-3zM264 535h2v1h-2zM285 535h4v1h-4zM293 535h2v1h-2zM298 535h3v1h-3zM302 535h2v1h-2zM306 535h2v1h-2zM310 535h3v1h-3zM317 535h2v1h-2zM321 535h6v1h-6zM332 535h5v1h-5zM342 535h2v1h-2zM349 535h5v1h-5zM358 535h3v1h-3zM362 535h2v1h-2zM365 535h4v1h-4zM372 535h3v1h-3zM377 535h2v1h-2zM382 535h2v1h-2zM388 535h3v1h-3zM83 536h3v1h-3zM89 536h2v1h-2zM103 536h2v1h-2zM110 536h2v1h-2zM120 536h2v1h-2zM133 536h2v1h-2zM149 536h2v1h-2zM179 536h3v1h-3zM187 536h2v1h-2zM191 536h4v1h-4zM212 536h2v1h-2zM225 536h2v1h-2zM233 536h2v1h-2zM237 536h2v1h-2zM240 536h2v1h-2zM248 536h4v1h-4zM257 536h3v1h-3zM262 536h2v1h-2zM278 536h2v1h-2zM285 536h4v1h-4zM299 536h5v1h-5zM306 536h2v1h-2zM310 536h3v1h-3zM317 536h2v1h-2zM320 536h2v1h-2zM333 536h4v1h-4zM342 536h2v1h-2zM349 536h5v1h-5zM357 536h4v1h-4zM362 536h2v1h-2zM367 536h4v1h-4zM372 536h2v1h-2zM386 536h1v1h-1zM388 536h3v1h-3zM399 536h2v1h-2zM83 537h2v1h-2zM89 537h2v1h-2zM103 537h2v1h-2zM110 537h2v1h-2zM133 537h2v1h-2zM148 537h3v1h-3zM159 537h2v1h-2zM179 537h2v1h-2zM187 537h2v1h-2zM191 537h4v1h-4zM208 537h2v1h-2zM212 537h2v1h-2zM221 537h2v1h-2zM233 537h6v1h-6zM242 537h2v1h-2zM248 537h4v1h-4zM260 537h6v1h-6zM270 537h4v1h-4zM278 537h2v1h-2zM285 537h7v1h-7zM300 537h3v1h-3zM304 537h1v1h-1zM310 537h2v1h-2zM316 537h2v1h-2zM320 537h2v1h-2zM328 537h2v1h-2zM331 537h2v1h-2zM338 537h7v1h-7zM349 537h4v1h-4zM357 537h2v1h-2zM360 537h1v1h-1zM362 537h2v1h-2zM368 537h3v1h-3zM372 537h2v1h-2zM377 537h1v1h-1zM385 537h2v1h-2zM391 537h2v1h-2zM399 537h2v1h-2zM103 538h2v1h-2zM113 538h2v1h-2zM119 538h2v1h-2zM148 538h2v1h-2zM159 538h2v1h-2zM178 538h2v1h-2zM187 538h2v1h-2zM208 538h2v1h-2zM221 538h2v1h-2zM232 538h2v1h-2zM235 538h4v1h-4zM241 538h3v1h-3zM260 538h2v1h-2zM264 538h2v1h-2zM270 538h3v1h-3zM287 538h5v1h-5zM301 538h4v1h-4zM316 538h2v1h-2zM325 538h1v1h-1zM328 538h2v1h-2zM331 538h2v1h-2zM337 538h5v1h-5zM343 538h2v1h-2zM346 538h1v1h-1zM349 538h4v1h-4zM357 538h3v1h-3zM361 538h3v1h-3zM367 538h2v1h-2zM375 538h3v1h-3zM391 538h2v1h-2zM394 538h1v1h-1zM113 539h2v1h-2zM119 539h2v1h-2zM123 539h2v1h-2zM138 539h2v1h-2zM153 539h2v1h-2zM178 539h2v1h-2zM187 539h2v1h-2zM200 539h2v1h-2zM240 539h3v1h-3zM249 539h1v1h-1zM252 539h1v1h-1zM254 539h1v1h-1zM261 539h1v1h-1zM267 539h2v1h-2zM271 539h2v1h-2zM279 539h2v1h-2zM285 539h2v1h-2zM292 539h1v1h-1zM300 539h1v1h-1zM302 539h2v1h-2zM310 539h3v1h-3zM318 539h2v1h-2zM324 539h2v1h-2zM332 539h2v1h-2zM336 539h2v1h-2zM343 539h6v1h-6zM357 539h2v1h-2zM362 539h2v1h-2zM374 539h3v1h-3zM381 539h2v1h-2zM384 539h2v1h-2zM389 539h2v1h-2zM394 539h1v1h-1zM123 540h2v1h-2zM138 540h2v1h-2zM153 540h3v1h-3zM200 540h2v1h-2zM231 540h2v1h-2zM248 540h7v1h-7zM260 540h2v1h-2zM271 540h2v1h-2zM299 540h4v1h-4zM305 540h2v1h-2zM311 540h4v1h-4zM318 540h5v1h-5zM326 540h2v1h-2zM331 540h5v1h-5zM339 540h4v1h-4zM344 540h1v1h-1zM348 540h2v1h-2zM357 540h5v1h-5zM366 540h2v1h-2zM376 540h2v1h-2zM380 540h3v1h-3zM387 540h2v1h-2zM119 541h2v1h-2zM143 541h2v1h-2zM146 541h2v1h-2zM154 541h2v1h-2zM180 541h2v1h-2zM220 541h2v1h-2zM236 541h2v1h-2zM251 541h2v1h-2zM255 541h2v1h-2zM263 541h2v1h-2zM266 541h5v1h-5zM279 541h3v1h-3zM287 541h2v1h-2zM290 541h2v1h-2zM293 541h5v1h-5zM304 541h2v1h-2zM311 541h2v1h-2zM323 541h2v1h-2zM326 541h5v1h-5zM334 541h7v1h-7zM350 541h2v1h-2zM353 541h2v1h-2zM357 541h6v1h-6zM364 541h2v1h-2zM373 541h2v1h-2zM381 541h4v1h-4zM389 541h2v1h-2zM107 542h2v1h-2zM119 542h2v1h-2zM143 542h2v1h-2zM146 542h2v1h-2zM155 542h2v1h-2zM169 542h2v1h-2zM175 542h2v1h-2zM180 542h2v1h-2zM192 542h2v1h-2zM201 542h2v1h-2zM210 542h2v1h-2zM219 542h3v1h-3zM228 542h2v1h-2zM236 542h2v1h-2zM240 542h2v1h-2zM243 542h2v1h-2zM246 542h2v1h-2zM251 542h2v1h-2zM255 542h2v1h-2zM263 542h8v1h-8zM274 542h3v1h-3zM279 542h3v1h-3zM287 542h2v1h-2zM290 542h2v1h-2zM293 542h6v1h-6zM304 542h4v1h-4zM311 542h2v1h-2zM315 542h4v1h-4zM320 542h2v1h-2zM324 542h2v1h-2zM327 542h4v1h-4zM332 542h14v1h-14zM349 542h14v1h-14zM364 542h2v1h-2zM367 542h2v1h-2zM373 542h2v1h-2zM381 542h5v1h-5zM387 542h4v1h-4zM83 543h2v1h-2zM107 543h2v1h-2zM155 543h2v1h-2zM169 543h2v1h-2zM175 543h3v1h-3zM192 543h2v1h-2zM201 543h2v1h-2zM210 543h2v1h-2zM214 543h2v1h-2zM219 543h2v1h-2zM228 543h2v1h-2zM232 543h2v1h-2zM235 543h2v1h-2zM239 543h3v1h-3zM243 543h2v1h-2zM246 543h2v1h-2zM252 543h2v1h-2zM265 543h5v1h-5zM274 543h3v1h-3zM279 543h2v1h-2zM284 543h5v1h-5zM291 543h4v1h-4zM296 543h3v1h-3zM304 543h3v1h-3zM309 543h2v1h-2zM314 543h2v1h-2zM318 543h1v1h-1zM320 543h2v1h-2zM325 543h1v1h-1zM328 543h2v1h-2zM331 543h3v1h-3zM335 543h2v1h-2zM338 543h3v1h-3zM343 543h4v1h-4zM349 543h11v1h-11zM362 543h2v1h-2zM366 543h3v1h-3zM371 543h6v1h-6zM381 543h5v1h-5zM387 543h4v1h-4zM392 543h2v1h-2zM83 544h2v1h-2zM147 544h2v1h-2zM163 544h2v1h-2zM166 544h2v1h-2zM176 544h2v1h-2zM210 544h2v1h-2zM214 544h2v1h-2zM227 544h2v1h-2zM232 544h2v1h-2zM235 544h2v1h-2zM238 544h2v1h-2zM242 544h4v1h-4zM250 544h2v1h-2zM253 544h3v1h-3zM257 544h4v1h-4zM267 544h3v1h-3zM284 544h3v1h-3zM291 544h2v1h-2zM294 544h4v1h-4zM302 544h5v1h-5zM309 544h2v1h-2zM314 544h1v1h-1zM318 544h1v1h-1zM321 544h1v1h-1zM325 544h1v1h-1zM328 544h2v1h-2zM331 544h3v1h-3zM335 544h2v1h-2zM338 544h1v1h-1zM345 544h11v1h-11zM362 544h2v1h-2zM366 544h4v1h-4zM371 544h6v1h-6zM381 544h3v1h-3zM387 544h4v1h-4zM392 544h1v1h-1zM394 544h1v1h-1zM76 545h2v1h-2zM87 545h2v1h-2zM101 545h2v1h-2zM124 545h2v1h-2zM147 545h2v1h-2zM159 545h2v1h-2zM162 545h3v1h-3zM166 545h4v1h-4zM174 545h2v1h-2zM179 545h2v1h-2zM186 545h2v1h-2zM192 545h2v1h-2zM210 545h2v1h-2zM218 545h2v1h-2zM227 545h4v1h-4zM238 545h2v1h-2zM241 545h5v1h-5zM250 545h2v1h-2zM254 545h2v1h-2zM257 545h3v1h-3zM261 545h2v1h-2zM264 545h2v1h-2zM270 545h2v1h-2zM273 545h4v1h-4zM283 545h3v1h-3zM294 545h2v1h-2zM298 545h2v1h-2zM302 545h7v1h-7zM318 545h1v1h-1zM321 545h1v1h-1zM328 545h6v1h-6zM335 545h2v1h-2zM338 545h1v1h-1zM343 545h6v1h-6zM350 545h1v1h-1zM352 545h3v1h-3zM368 545h2v1h-2zM371 545h6v1h-6zM382 545h2v1h-2zM387 545h6v1h-6zM394 545h1v1h-1zM76 546h2v1h-2zM87 546h4v1h-4zM101 546h2v1h-2zM115 546h2v1h-2zM124 546h2v1h-2zM152 546h2v1h-2zM156 546h2v1h-2zM159 546h5v1h-5zM166 546h4v1h-4zM174 546h2v1h-2zM179 546h2v1h-2zM186 546h2v1h-2zM192 546h3v1h-3zM204 546h2v1h-2zM218 546h2v1h-2zM222 546h2v1h-2zM227 546h4v1h-4zM232 546h5v1h-5zM238 546h7v1h-7zM247 546h2v1h-2zM251 546h2v1h-2zM254 546h2v1h-2zM258 546h2v1h-2zM261 546h5v1h-5zM270 546h7v1h-7zM282 546h6v1h-6zM297 546h4v1h-4zM304 546h8v1h-8zM315 546h2v1h-2zM320 546h2v1h-2zM329 546h6v1h-6zM336 546h2v1h-2zM343 546h4v1h-4zM352 546h3v1h-3zM361 546h2v1h-2zM369 546h2v1h-2zM372 546h2v1h-2zM376 546h3v1h-3zM385 546h4v1h-4zM390 546h4v1h-4zM76 547h2v1h-2zM89 547h2v1h-2zM115 547h2v1h-2zM143 547h2v1h-2zM152 547h2v1h-2zM156 547h2v1h-2zM160 547h2v1h-2zM166 547h2v1h-2zM170 547h2v1h-2zM193 547h2v1h-2zM201 547h2v1h-2zM204 547h2v1h-2zM218 547h2v1h-2zM222 547h2v1h-2zM232 547h5v1h-5zM239 547h2v1h-2zM247 547h2v1h-2zM251 547h2v1h-2zM254 547h2v1h-2zM262 547h3v1h-3zM271 547h6v1h-6zM285 547h3v1h-3zM296 547h2v1h-2zM299 547h2v1h-2zM304 547h2v1h-2zM308 547h4v1h-4zM315 547h2v1h-2zM319 547h2v1h-2zM323 547h1v1h-1zM331 547h4v1h-4zM336 547h2v1h-2zM345 547h2v1h-2zM353 547h2v1h-2zM361 547h2v1h-2zM369 547h2v1h-2zM372 547h8v1h-8zM385 547h3v1h-3zM390 547h2v1h-2zM393 547h1v1h-1zM115 548h2v1h-2zM118 548h2v1h-2zM126 548h2v1h-2zM143 548h2v1h-2zM146 548h2v1h-2zM156 548h2v1h-2zM170 548h2v1h-2zM195 548h2v1h-2zM201 548h2v1h-2zM209 548h2v1h-2zM218 548h2v1h-2zM222 548h2v1h-2zM239 548h5v1h-5zM245 548h1v1h-1zM248 548h1v1h-1zM252 548h1v1h-1zM259 548h2v1h-2zM263 548h1v1h-1zM270 548h2v1h-2zM273 548h2v1h-2zM287 548h1v1h-1zM289 548h2v1h-2zM294 548h5v1h-5zM301 548h2v1h-2zM305 548h2v1h-2zM308 548h1v1h-1zM314 548h2v1h-2zM322 548h2v1h-2zM328 548h2v1h-2zM333 548h1v1h-1zM335 548h1v1h-1zM343 548h2v1h-2zM350 548h2v1h-2zM355 548h2v1h-2zM358 548h2v1h-2zM366 548h2v1h-2zM372 548h8v1h-8zM383 548h4v1h-4zM118 549h2v1h-2zM126 549h2v1h-2zM146 549h2v1h-2zM173 549h2v1h-2zM195 549h2v1h-2zM209 549h2v1h-2zM238 549h2v1h-2zM242 549h7v1h-7zM250 549h7v1h-7zM261 549h5v1h-5zM281 549h2v1h-2zM286 549h3v1h-3zM293 549h2v1h-2zM307 549h4v1h-4zM313 549h6v1h-6zM320 549h4v1h-4zM331 549h6v1h-6zM342 549h2v1h-2zM350 549h2v1h-2zM354 549h2v1h-2zM359 549h2v1h-2zM365 549h2v1h-2zM371 549h2v1h-2zM382 549h2v1h-2zM385 549h1v1h-1zM388 549h2v1h-2zM392 549h2v1h-2zM134 550h2v1h-2zM140 550h3v1h-3zM145 550h2v1h-2zM169 550h2v1h-2zM173 550h5v1h-5zM198 550h4v1h-4zM224 550h5v1h-5zM235 550h2v1h-2zM239 550h4v1h-4zM247 550h2v1h-2zM253 550h2v1h-2zM263 550h2v1h-2zM268 550h3v1h-3zM273 550h2v1h-2zM286 550h2v1h-2zM297 550h3v1h-3zM303 550h2v1h-2zM310 550h2v1h-2zM313 550h3v1h-3zM319 550h6v1h-6zM326 550h4v1h-4zM346 550h2v1h-2zM353 550h2v1h-2zM361 550h4v1h-4zM368 550h7v1h-7zM378 550h2v1h-2zM381 550h4v1h-4zM387 550h2v1h-2zM86 551h2v1h-2zM118 551h4v1h-4zM134 551h2v1h-2zM140 551h3v1h-3zM145 551h2v1h-2zM151 551h4v1h-4zM169 551h2v1h-2zM174 551h4v1h-4zM198 551h4v1h-4zM204 551h4v1h-4zM210 551h2v1h-2zM224 551h9v1h-9zM235 551h2v1h-2zM239 551h4v1h-4zM245 551h4v1h-4zM253 551h2v1h-2zM261 551h4v1h-4zM268 551h3v1h-3zM273 551h2v1h-2zM280 551h2v1h-2zM283 551h2v1h-2zM286 551h2v1h-2zM289 551h2v1h-2zM297 551h4v1h-4zM303 551h3v1h-3zM309 551h3v1h-3zM313 551h3v1h-3zM319 551h2v1h-2zM323 551h9v1h-9zM333 551h2v1h-2zM336 551h2v1h-2zM347 551h1v1h-1zM353 551h2v1h-2zM358 551h8v1h-8zM368 551h7v1h-7zM378 551h3v1h-3zM382 551h7v1h-7zM86 552h2v1h-2zM118 552h4v1h-4zM124 552h2v1h-2zM141 552h2v1h-2zM147 552h2v1h-2zM151 552h4v1h-4zM160 552h2v1h-2zM166 552h2v1h-2zM169 552h7v1h-7zM204 552h4v1h-4zM210 552h2v1h-2zM229 552h6v1h-6zM239 552h3v1h-3zM245 552h2v1h-2zM250 552h2v1h-2zM254 552h2v1h-2zM261 552h2v1h-2zM265 552h2v1h-2zM270 552h1v1h-1zM280 552h5v1h-5zM289 552h2v1h-2zM299 552h2v1h-2zM304 552h2v1h-2zM307 552h6v1h-6zM314 552h2v1h-2zM319 552h1v1h-1zM323 552h2v1h-2zM326 552h2v1h-2zM330 552h2v1h-2zM333 552h3v1h-3zM337 552h3v1h-3zM346 552h2v1h-2zM353 552h4v1h-4zM358 552h3v1h-3zM363 552h3v1h-3zM374 552h1v1h-1zM379 552h2v1h-2zM384 552h3v1h-3zM394 552h2v1h-2zM94 553h2v1h-2zM124 553h2v1h-2zM139 553h5v1h-5zM147 553h2v1h-2zM160 553h2v1h-2zM166 553h2v1h-2zM171 553h4v1h-4zM176 553h3v1h-3zM189 553h3v1h-3zM197 553h2v1h-2zM201 553h2v1h-2zM209 553h2v1h-2zM215 553h2v1h-2zM231 553h1v1h-1zM233 553h4v1h-4zM239 553h2v1h-2zM248 553h4v1h-4zM254 553h3v1h-3zM258 553h1v1h-1zM261 553h6v1h-6zM271 553h2v1h-2zM276 553h2v1h-2zM282 553h3v1h-3zM289 553h2v1h-2zM292 553h2v1h-2zM305 553h4v1h-4zM310 553h3v1h-3zM314 553h2v1h-2zM319 553h1v1h-1zM325 553h2v1h-2zM334 553h2v1h-2zM338 553h2v1h-2zM346 553h4v1h-4zM353 553h4v1h-4zM360 553h4v1h-4zM379 553h2v1h-2zM393 553h3v1h-3zM94 554h2v1h-2zM120 554h2v1h-2zM134 554h2v1h-2zM138 554h3v1h-3zM142 554h3v1h-3zM149 554h4v1h-4zM165 554h2v1h-2zM169 554h2v1h-2zM176 554h4v1h-4zM188 554h6v1h-6zM197 554h3v1h-3zM201 554h2v1h-2zM209 554h2v1h-2zM214 554h5v1h-5zM227 554h1v1h-1zM230 554h7v1h-7zM245 554h2v1h-2zM248 554h2v1h-2zM253 554h7v1h-7zM261 554h4v1h-4zM271 554h2v1h-2zM276 554h4v1h-4zM282 554h3v1h-3zM286 554h2v1h-2zM292 554h2v1h-2zM301 554h2v1h-2zM305 554h8v1h-8zM328 554h2v1h-2zM332 554h5v1h-5zM343 554h2v1h-2zM347 554h3v1h-3zM351 554h6v1h-6zM360 554h7v1h-7zM370 554h2v1h-2zM375 554h2v1h-2zM379 554h2v1h-2zM382 554h1v1h-1zM385 554h2v1h-2zM393 554h1v1h-1zM106 555h2v1h-2zM109 555h2v1h-2zM113 555h2v1h-2zM116 555h6v1h-6zM134 555h2v1h-2zM138 555h2v1h-2zM143 555h2v1h-2zM149 555h4v1h-4zM154 555h2v1h-2zM159 555h4v1h-4zM165 555h2v1h-2zM169 555h4v1h-4zM174 555h6v1h-6zM188 555h2v1h-2zM192 555h2v1h-2zM198 555h2v1h-2zM205 555h2v1h-2zM212 555h4v1h-4zM217 555h3v1h-3zM222 555h2v1h-2zM226 555h2v1h-2zM233 555h2v1h-2zM245 555h2v1h-2zM253 555h2v1h-2zM258 555h2v1h-2zM271 555h2v1h-2zM275 555h5v1h-5zM286 555h2v1h-2zM294 555h1v1h-1zM301 555h2v1h-2zM310 555h3v1h-3zM320 555h1v1h-1zM322 555h1v1h-1zM328 555h2v1h-2zM332 555h5v1h-5zM343 555h2v1h-2zM346 555h1v1h-1zM351 555h2v1h-2zM354 555h3v1h-3zM364 555h3v1h-3zM370 555h2v1h-2zM375 555h2v1h-2zM381 555h2v1h-2zM385 555h2v1h-2zM391 555h1v1h-1zM92 556h2v1h-2zM106 556h2v1h-2zM109 556h2v1h-2zM113 556h2v1h-2zM116 556h4v1h-4zM154 556h2v1h-2zM159 556h4v1h-4zM165 556h2v1h-2zM171 556h2v1h-2zM174 556h4v1h-4zM183 556h2v1h-2zM192 556h2v1h-2zM205 556h2v1h-2zM212 556h2v1h-2zM218 556h2v1h-2zM222 556h2v1h-2zM226 556h2v1h-2zM237 556h2v1h-2zM248 556h2v1h-2zM256 556h2v1h-2zM259 556h1v1h-1zM265 556h2v1h-2zM271 556h3v1h-3zM275 556h2v1h-2zM281 556h2v1h-2zM293 556h2v1h-2zM310 556h2v1h-2zM314 556h2v1h-2zM319 556h4v1h-4zM334 556h2v1h-2zM345 556h2v1h-2zM349 556h2v1h-2zM354 556h2v1h-2zM358 556h2v1h-2zM362 556h2v1h-2zM368 556h2v1h-2zM374 556h5v1h-5zM381 556h2v1h-2zM384 556h3v1h-3zM390 556h2v1h-2zM394 556h2v1h-2zM92 557h2v1h-2zM149 557h2v1h-2zM171 557h2v1h-2zM175 557h2v1h-2zM183 557h2v1h-2zM222 557h2v1h-2zM237 557h2v1h-2zM243 557h2v1h-2zM254 557h2v1h-2zM258 557h2v1h-2zM280 557h2v1h-2zM295 557h2v1h-2zM310 557h1v1h-1zM357 557h3v1h-3zM383 557h4v1h-4zM389 557h2v1h-2zM394 557h2v1h-2zM80 558h2v1h-2zM88 558h2v1h-2zM104 558h2v1h-2zM129 558h2v1h-2zM149 558h2v1h-2zM171 558h2v1h-2zM175 558h2v1h-2zM178 558h2v1h-2zM189 558h2v1h-2zM225 558h2v1h-2zM231 558h2v1h-2zM241 558h3v1h-3zM245 558h2v1h-2zM257 558h2v1h-2zM277 558h2v1h-2zM286 558h4v1h-4zM291 558h2v1h-2zM296 558h2v1h-2zM310 558h2v1h-2zM335 558h2v1h-2zM359 558h2v1h-2zM362 558h4v1h-4zM368 558h2v1h-2zM380 558h2v1h-2zM80 559h2v1h-2zM87 559h3v1h-3zM104 559h2v1h-2zM109 559h2v1h-2zM129 559h2v1h-2zM134 559h2v1h-2zM149 559h2v1h-2zM161 559h2v1h-2zM171 559h2v1h-2zM178 559h2v1h-2zM189 559h4v1h-4zM196 559h4v1h-4zM207 559h2v1h-2zM213 559h2v1h-2zM218 559h2v1h-2zM225 559h3v1h-3zM231 559h2v1h-2zM241 559h6v1h-6zM250 559h4v1h-4zM255 559h3v1h-3zM261 559h2v1h-2zM264 559h2v1h-2zM273 559h2v1h-2zM278 559h2v1h-2zM287 559h3v1h-3zM291 559h4v1h-4zM297 559h1v1h-1zM302 559h2v1h-2zM310 559h2v1h-2zM323 559h2v1h-2zM335 559h2v1h-2zM345 559h2v1h-2zM353 559h2v1h-2zM359 559h2v1h-2zM362 559h4v1h-4zM369 559h2v1h-2zM375 559h2v1h-2zM378 559h4v1h-4zM386 559h2v1h-2zM80 560h2v1h-2zM87 560h2v1h-2zM97 560h3v1h-3zM109 560h2v1h-2zM128 560h2v1h-2zM132 560h4v1h-4zM161 560h2v1h-2zM191 560h2v1h-2zM196 560h5v1h-5zM207 560h2v1h-2zM213 560h3v1h-3zM218 560h2v1h-2zM224 560h3v1h-3zM238 560h2v1h-2zM245 560h2v1h-2zM250 560h4v1h-4zM255 560h2v1h-2zM260 560h2v1h-2zM272 560h2v1h-2zM278 560h2v1h-2zM282 560h3v1h-3zM287 560h3v1h-3zM296 560h5v1h-5zM305 560h2v1h-2zM309 560h2v1h-2zM328 560h4v1h-4zM334 560h2v1h-2zM346 560h2v1h-2zM358 560h3v1h-3zM362 560h5v1h-5zM371 560h2v1h-2zM380 560h2v1h-2zM386 560h2v1h-2zM389 560h2v1h-2zM97 561h3v1h-3zM124 561h2v1h-2zM128 561h3v1h-3zM132 561h2v1h-2zM140 561h2v1h-2zM157 561h2v1h-2zM161 561h2v1h-2zM199 561h2v1h-2zM214 561h4v1h-4zM221 561h2v1h-2zM224 561h2v1h-2zM237 561h3v1h-3zM249 561h2v1h-2zM252 561h2v1h-2zM260 561h4v1h-4zM265 561h2v1h-2zM269 561h5v1h-5zM279 561h5v1h-5zM288 561h2v1h-2zM297 561h4v1h-4zM305 561h2v1h-2zM308 561h4v1h-4zM320 561h2v1h-2zM328 561h4v1h-4zM343 561h3v1h-3zM358 561h3v1h-3zM363 561h4v1h-4zM371 561h4v1h-4zM384 561h4v1h-4zM389 561h2v1h-2zM109 562h2v1h-2zM124 562h2v1h-2zM127 562h9v1h-9zM140 562h2v1h-2zM157 562h3v1h-3zM186 562h2v1h-2zM194 562h2v1h-2zM204 562h2v1h-2zM210 562h2v1h-2zM216 562h4v1h-4zM221 562h3v1h-3zM229 562h2v1h-2zM237 562h2v1h-2zM247 562h4v1h-4zM253 562h2v1h-2zM262 562h11v1h-11zM279 562h4v1h-4zM284 562h2v1h-2zM289 562h5v1h-5zM298 562h4v1h-4zM308 562h4v1h-4zM320 562h4v1h-4zM341 562h5v1h-5zM348 562h2v1h-2zM351 562h4v1h-4zM362 562h3v1h-3zM372 562h4v1h-4zM379 562h3v1h-3zM384 562h2v1h-2zM389 562h2v1h-2zM90 563h2v1h-2zM94 563h2v1h-2zM109 563h2v1h-2zM124 563h2v1h-2zM127 563h2v1h-2zM130 563h6v1h-6zM158 563h2v1h-2zM186 563h2v1h-2zM194 563h2v1h-2zM204 563h2v1h-2zM210 563h2v1h-2zM218 563h2v1h-2zM222 563h2v1h-2zM229 563h2v1h-2zM237 563h2v1h-2zM247 563h2v1h-2zM253 563h2v1h-2zM263 563h2v1h-2zM267 563h2v1h-2zM284 563h3v1h-3zM289 563h5v1h-5zM298 563h4v1h-4zM322 563h3v1h-3zM330 563h2v1h-2zM335 563h2v1h-2zM341 563h2v1h-2zM348 563h2v1h-2zM351 563h4v1h-4zM362 563h2v1h-2zM372 563h4v1h-4zM379 563h3v1h-3zM88 564h4v1h-4zM94 564h2v1h-2zM113 564h2v1h-2zM120 564h2v1h-2zM124 564h2v1h-2zM131 564h2v1h-2zM135 564h2v1h-2zM179 564h2v1h-2zM188 564h2v1h-2zM210 564h2v1h-2zM218 564h2v1h-2zM224 564h3v1h-3zM228 564h2v1h-2zM231 564h2v1h-2zM236 564h3v1h-3zM241 564h2v1h-2zM251 564h2v1h-2zM254 564h2v1h-2zM285 564h2v1h-2zM302 564h2v1h-2zM307 564h2v1h-2zM323 564h4v1h-4zM330 564h2v1h-2zM335 564h2v1h-2zM389 564h2v1h-2zM88 565h2v1h-2zM113 565h2v1h-2zM120 565h2v1h-2zM135 565h2v1h-2zM158 565h2v1h-2zM179 565h2v1h-2zM188 565h2v1h-2zM210 565h2v1h-2zM218 565h2v1h-2zM224 565h3v1h-3zM228 565h6v1h-6zM236 565h2v1h-2zM241 565h2v1h-2zM251 565h2v1h-2zM254 565h3v1h-3zM263 565h2v1h-2zM282 565h2v1h-2zM287 565h2v1h-2zM302 565h2v1h-2zM307 565h2v1h-2zM324 565h3v1h-3zM343 565h2v1h-2zM373 565h2v1h-2zM387 565h4v1h-4zM156 566h4v1h-4zM176 566h2v1h-2zM198 566h4v1h-4zM205 566h2v1h-2zM229 566h5v1h-5zM250 566h2v1h-2zM255 566h2v1h-2zM263 566h4v1h-4zM271 566h2v1h-2zM278 566h2v1h-2zM282 566h2v1h-2zM287 566h2v1h-2zM332 566h2v1h-2zM343 566h2v1h-2zM347 566h2v1h-2zM360 566h2v1h-2zM373 566h2v1h-2zM387 566h2v1h-2zM156 567h2v1h-2zM176 567h2v1h-2zM191 567h2v1h-2zM198 567h4v1h-4zM205 567h2v1h-2zM228 567h4v1h-4zM235 567h2v1h-2zM240 567h4v1h-4zM245 567h2v1h-2zM250 567h3v1h-3zM255 567h2v1h-2zM265 567h3v1h-3zM271 567h2v1h-2zM278 567h2v1h-2zM284 567h2v1h-2zM332 567h4v1h-4zM341 567h2v1h-2zM347 567h2v1h-2zM360 567h2v1h-2zM365 567h2v1h-2zM156 568h2v1h-2zM180 568h2v1h-2zM187 568h2v1h-2zM191 568h2v1h-2zM205 568h2v1h-2zM210 568h2v1h-2zM228 568h4v1h-4zM235 568h2v1h-2zM240 568h4v1h-4zM245 568h2v1h-2zM251 568h2v1h-2zM255 568h2v1h-2zM261 568h2v1h-2zM266 568h3v1h-3zM271 568h2v1h-2zM276 568h2v1h-2zM284 568h2v1h-2zM294 568h2v1h-2zM323 568h2v1h-2zM334 568h2v1h-2zM338 568h2v1h-2zM341 568h2v1h-2zM348 568h2v1h-2zM362 568h2v1h-2zM365 568h2v1h-2zM144 569h2v1h-2zM156 569h2v1h-2zM174 569h2v1h-2zM177 569h2v1h-2zM180 569h2v1h-2zM185 569h4v1h-4zM192 569h2v1h-2zM199 569h2v1h-2zM205 569h2v1h-2zM210 569h2v1h-2zM245 569h2v1h-2zM261 569h2v1h-2zM267 569h2v1h-2zM276 569h2v1h-2zM294 569h2v1h-2zM300 569h2v1h-2zM323 569h2v1h-2zM329 569h2v1h-2zM338 569h2v1h-2zM348 569h2v1h-2zM354 569h4v1h-4zM362 569h2v1h-2zM103 570h2v1h-2zM137 570h2v1h-2zM144 570h2v1h-2zM161 570h2v1h-2zM171 570h2v1h-2zM174 570h5v1h-5zM185 570h2v1h-2zM192 570h2v1h-2zM197 570h4v1h-4zM220 570h2v1h-2zM226 570h2v1h-2zM231 570h2v1h-2zM240 570h2v1h-2zM251 570h2v1h-2zM256 570h2v1h-2zM262 570h4v1h-4zM300 570h2v1h-2zM315 570h2v1h-2zM329 570h2v1h-2zM347 570h2v1h-2zM354 570h4v1h-4zM103 571h2v1h-2zM132 571h2v1h-2zM137 571h2v1h-2zM161 571h2v1h-2zM167 571h2v1h-2zM171 571h2v1h-2zM175 571h2v1h-2zM181 571h2v1h-2zM192 571h2v1h-2zM197 571h2v1h-2zM214 571h2v1h-2zM220 571h2v1h-2zM226 571h2v1h-2zM231 571h2v1h-2zM240 571h2v1h-2zM251 571h2v1h-2zM256 571h2v1h-2zM262 571h4v1h-4zM284 571h3v1h-3zM315 571h2v1h-2zM347 571h2v1h-2zM132 572h2v1h-2zM167 572h2v1h-2zM171 572h2v1h-2zM181 572h2v1h-2zM197 572h2v1h-2zM213 572h3v1h-3zM243 572h2v1h-2zM284 572h3v1h-3zM329 572h2v1h-2zM345 572h2v1h-2zM82 573h2v1h-2zM118 573h4v1h-4zM164 573h2v1h-2zM192 573h2v1h-2zM213 573h2v1h-2zM218 573h2v1h-2zM224 573h2v1h-2zM233 573h2v1h-2zM240 573h2v1h-2zM243 573h2v1h-2zM247 573h2v1h-2zM281 573h2v1h-2zM329 573h2v1h-2zM345 573h2v1h-2zM351 573h2v1h-2zM82 574h2v1h-2zM118 574h4v1h-4zM164 574h2v1h-2zM192 574h2v1h-2zM195 574h2v1h-2zM218 574h2v1h-2zM224 574h2v1h-2zM233 574h2v1h-2zM240 574h2v1h-2zM247 574h2v1h-2zM260 574h2v1h-2zM281 574h2v1h-2zM351 574h2v1h-2zM362 574h2v1h-2zM371 574h2v1h-2zM105 575h2v1h-2zM112 575h2v1h-2zM127 575h2v1h-2zM134 575h4v1h-4zM139 575h2v1h-2zM145 575h2v1h-2zM195 575h2v1h-2zM212 575h2v1h-2zM260 575h2v1h-2zM362 575h2v1h-2zM371 575h2v1h-2zM389 575h2v1h-2zM105 576h2v1h-2zM112 576h2v1h-2zM118 576h5v1h-5zM127 576h2v1h-2zM134 576h7v1h-7zM145 576h2v1h-2zM164 576h2v1h-2zM182 576h2v1h-2zM195 576h2v1h-2zM212 576h2v1h-2zM292 576h2v1h-2zM389 576h2v1h-2zM118 577h5v1h-5zM137 577h2v1h-2zM159 577h2v1h-2zM164 577h2v1h-2zM173 577h2v1h-2zM176 577h2v1h-2zM182 577h2v1h-2zM207 577h2v1h-2zM216 577h2v1h-2zM222 577h2v1h-2zM226 577h2v1h-2zM265 577h2v1h-2zM285 577h2v1h-2zM292 577h2v1h-2zM339 577h2v1h-2zM386 577h2v1h-2zM122 578h2v1h-2zM159 578h2v1h-2zM164 578h2v1h-2zM173 578h2v1h-2zM176 578h2v1h-2zM207 578h2v1h-2zM216 578h2v1h-2zM221 578h3v1h-3zM226 578h2v1h-2zM264 578h3v1h-3zM285 578h2v1h-2zM306 578h2v1h-2zM339 578h2v1h-2zM375 578h2v1h-2zM386 578h2v1h-2zM99 579h2v1h-2zM122 579h2v1h-2zM134 579h2v1h-2zM155 579h2v1h-2zM159 579h2v1h-2zM176 579h2v1h-2zM207 579h2v1h-2zM216 579h2v1h-2zM221 579h2v1h-2zM264 579h2v1h-2zM306 579h2v1h-2zM375 579h2v1h-2zM99 580h2v1h-2zM116 580h2v1h-2zM130 580h2v1h-2zM134 580h2v1h-2zM150 580h2v1h-2zM155 580h2v1h-2zM207 580h2v1h-2zM228 580h2v1h-2zM314 580h2v1h-2zM82 581h2v1h-2zM97 581h2v1h-2zM116 581h2v1h-2zM124 581h2v1h-2zM130 581h2v1h-2zM150 581h2v1h-2zM207 581h2v1h-2zM212 581h2v1h-2zM228 581h2v1h-2zM294 581h2v1h-2zM314 581h2v1h-2zM82 582h2v1h-2zM97 582h2v1h-2zM124 582h2v1h-2zM212 582h2v1h-2zM294 582h2v1h-2zM117 583h2v1h-2zM144 583h2v1h-2zM190 583h4v1h-4zM79 584h2v1h-2zM117 584h2v1h-2zM144 584h3v1h-3zM164 584h2v1h-2zM190 584h4v1h-4zM79 585h2v1h-2zM145 585h2v1h-2zM164 585h2v1h-2zM104 586h2v1h-2zM384 586h2v1h-2zM104 587h2v1h-2zM138 587h2v1h-2zM146 587h2v1h-2zM255 587h2v1h-2zM384 587h2v1h-2zM138 588h2v1h-2zM146 588h2v1h-2zM255 588h2v1h-2zM92 589h2v1h-2zM92 590h2v1h-2z" fill="#ff0000"/><g font-family='"Liberation Sans", Arial, sans-serif' font-size="12.5" fill="#0000ff"><text x="71.5" y="652" text-anchor="middle">19</text><text x="122.5" y="652" text-anchor="middle">20</text><text x="173.5" y="652" text-anchor="middle">21</text><text x="224.5" y="652" text-anchor="middle">22</text><text x="275.5" y="652" text-anchor="middle">23</text><text x="326.5" y="652" text-anchor="middle">24</text><text x="377.5" y="652" text-anchor="middle">25</text><text x="428.5" y="652" text-anchor="middle">26</text><text x="479.5" y="652" text-anchor="middle">27</text><text x="530.5" y="652" text-anchor="middle">28</text><text x="581.5" y="652" text-anchor="middle">29</text><text x="60.5" y="643.0" text-anchor="end">0</text><text x="60.5" y="586.0" text-anchor="end">0.5</text><text x="60.5" y="529.0" text-anchor="end">1</text><text x="60.5" y="473.0" text-anchor="end">1.5</text><text x="60.5" y="416.0" text-anchor="end">2</text><text x="60.5" y="359.0" text-anchor="end">2.5</text><text x="60.5" y="302.0" text-anchor="end">3</text><text x="60.5" y="246.0" text-anchor="end">3.5</text><text x="60.5" y="189.0" text-anchor="end">4</text><text x="60.5" y="132.0" text-anchor="end">4.5</text><text x="60.5" y="76.0" text-anchor="end">5</text></g><text x="291.8" y="676" textLength="70.2" lengthAdjust="spacingAndGlyphs" font-family='"DejaVu Sans", "Liberation Sans", sans-serif' font-weight="200" stroke="#0000ff" stroke-width="0.4" font-size="22" fill="#0000ff">F814W</text><text transform="translate(29 101.4) rotate(-90)" textLength="30.6" lengthAdjust="spacingAndGlyphs" font-family='"DejaVu Sans", "Liberation Sans", sans-serif' font-weight="200" stroke="#0000ff" stroke-width="0.4" font-size="22" fill="#0000ff">chi</text><text x="82.2" y="94" textLength="35.2" lengthAdjust="spacingAndGlyphs" font-family='"DejaVu Sans", "Liberation Sans", sans-serif' font-weight="200" stroke="#0000ff" stroke-width="0.4" font-size="16.5" fill="#0000ff">WF2</text><text x="366.4" y="89" textLength="67.6" lengthAdjust="spacingAndGlyphs" font-family='"DejaVu Sans", "Liberation Sans", sans-serif' font-weight="200" stroke="#0000ff" stroke-width="0.4" font-size="18" fill="#0000ff">ENTRIES</text><text x="529" y="89" textLength="42.2" lengthAdjust="spacingAndGlyphs" font-family='"DejaVu Sans", "Liberation Sans", sans-serif' font-weight="200" stroke="#0000ff" stroke-width="0.8" font-size="18" fill="#0000ff">1665</text><text x="151" y="45.8" textLength="322.8" lengthAdjust="spacingAndGlyphs" font-family='"Liberation Serif", "Times New Roman", serif' font-weight="bold" font-size="26" fill="#0000ff">HSTPHOT: Field lmc_u5ay01</text></svg></body></html>
